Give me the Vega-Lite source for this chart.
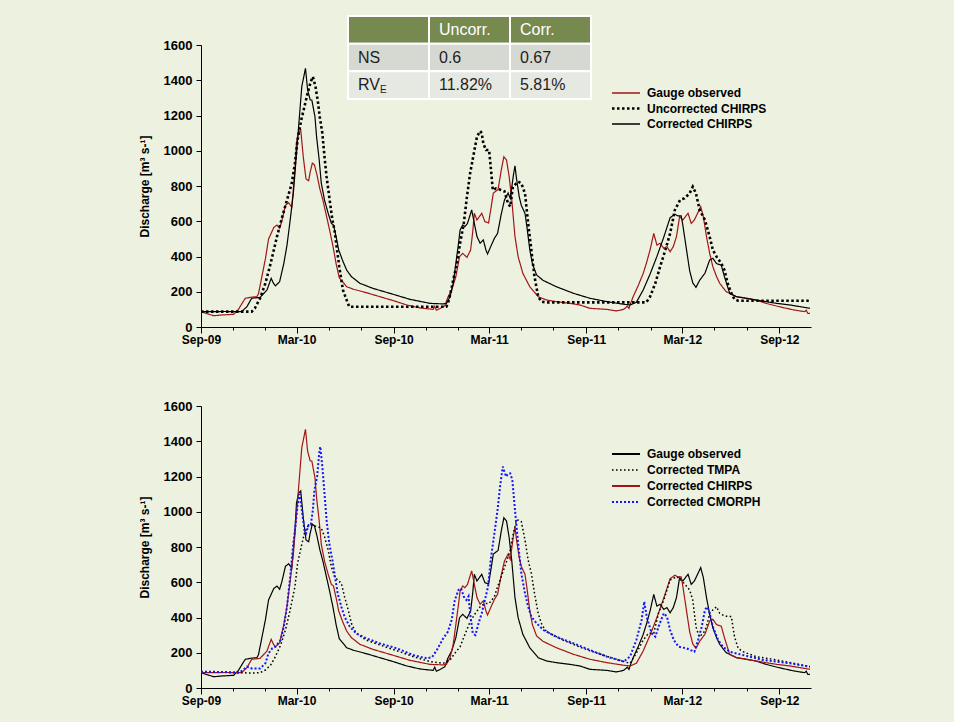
{
"$schema": "https://vega.github.io/schema/vega-lite/v6.json",
"background": "#edf1e0",
"padding": {"left": 138, "top": 15, "right": 144, "bottom": 16},
"autosize": {"type": "pad"},
"config": {
  "font": "Liberation Sans",
  "view": {"stroke": null},
  "axis": {"domainColor": "#000000", "tickColor": "#000000", "labelColor": "#000000", "labelFont": "Liberation Sans", "labelFontWeight": "bold", "grid": false, "domainWidth": 1, "tickWidth": 1, "titleColor": "#000000", "titleFont": "Liberation Sans"},
  "legend": {"labelFont": "Liberation Sans", "labelFontSize": 12, "labelFontWeight": "bold", "labelColor": "#000000"}
},
"datasets": {
"tbl": [
{"row":"h","col":"a","t":""},{"row":"h","col":"b","t":"Uncorr."},{"row":"h","col":"c","t":"Corr."},
{"row":"n","col":"a","t":"NS"},{"row":"n","col":"b","t":"0.6"},{"row":"n","col":"c","t":"0.67"},
{"row":"r","col":"a","t":"RV","sub":"E"},{"row":"r","col":"b","t":"11.82%"},{"row":"r","col":"c","t":"5.81%"}
],
"q": [
{"s":"Gauge observed","d":"2009-09-01","v":87},{"s":"Gauge observed","d":"2009-09-13","v":75},{"s":"Gauge observed","d":"2009-09-25","v":64},{"s":"Gauge observed","d":"2009-10-10","v":68},{"s":"Gauge observed","d":"2009-11-02","v":72},{"s":"Gauge observed","d":"2009-11-11","v":100},{"s":"Gauge observed","d":"2009-11-19","v":140},{"s":"Gauge observed","d":"2009-11-24","v":163},{"s":"Gauge observed","d":"2009-12-07","v":170},{"s":"Gauge observed","d":"2009-12-16","v":172},{"s":"Gauge observed","d":"2009-12-19","v":190},{"s":"Gauge observed","d":"2009-12-25","v":280},{"s":"Gauge observed","d":"2010-01-01","v":386},{"s":"Gauge observed","d":"2010-01-07","v":499},{"s":"Gauge observed","d":"2010-01-17","v":565},{"s":"Gauge observed","d":"2010-01-23","v":578},{"s":"Gauge observed","d":"2010-01-28","v":560},{"s":"Gauge observed","d":"2010-02-01","v":600},{"s":"Gauge observed","d":"2010-02-08","v":690},{"s":"Gauge observed","d":"2010-02-14","v":705},{"s":"Gauge observed","d":"2010-02-20","v":680},{"s":"Gauge observed","d":"2010-02-26","v":891},{"s":"Gauge observed","d":"2010-03-01","v":1050},{"s":"Gauge observed","d":"2010-03-05","v":1105},{"s":"Gauge observed","d":"2010-03-09","v":1118},{"s":"Gauge observed","d":"2010-03-14","v":960},{"s":"Gauge observed","d":"2010-03-19","v":840},{"s":"Gauge observed","d":"2010-03-24","v":830},{"s":"Gauge observed","d":"2010-03-27","v":880},{"s":"Gauge observed","d":"2010-03-31","v":930},{"s":"Gauge observed","d":"2010-04-04","v":920},{"s":"Gauge observed","d":"2010-04-09","v":860},{"s":"Gauge observed","d":"2010-04-14","v":787},{"s":"Gauge observed","d":"2010-04-20","v":720},{"s":"Gauge observed","d":"2010-04-26","v":640},{"s":"Gauge observed","d":"2010-05-02","v":560},{"s":"Gauge observed","d":"2010-05-09","v":460},{"s":"Gauge observed","d":"2010-05-15","v":360},{"s":"Gauge observed","d":"2010-05-21","v":280},{"s":"Gauge observed","d":"2010-06-04","v":229},{"s":"Gauge observed","d":"2010-06-16","v":215},{"s":"Gauge observed","d":"2010-07-11","v":195},{"s":"Gauge observed","d":"2010-08-06","v":172},{"s":"Gauge observed","d":"2010-08-31","v":150},{"s":"Gauge observed","d":"2010-09-26","v":125},{"s":"Gauge observed","d":"2010-10-21","v":108},{"s":"Gauge observed","d":"2010-11-15","v":100},{"s":"Gauge observed","d":"2010-11-18","v":118},{"s":"Gauge observed","d":"2010-11-21","v":95},{"s":"Gauge observed","d":"2010-11-28","v":105},{"s":"Gauge observed","d":"2010-12-07","v":120},{"s":"Gauge observed","d":"2010-12-13","v":170},{"s":"Gauge observed","d":"2010-12-20","v":210},{"s":"Gauge observed","d":"2010-12-28","v":286},{"s":"Gauge observed","d":"2011-01-04","v":399},{"s":"Gauge observed","d":"2011-01-10","v":418},{"s":"Gauge observed","d":"2011-01-18","v":395},{"s":"Gauge observed","d":"2011-01-25","v":437},{"s":"Gauge observed","d":"2011-01-29","v":541},{"s":"Gauge observed","d":"2011-02-01","v":645},{"s":"Gauge observed","d":"2011-02-06","v":607},{"s":"Gauge observed","d":"2011-02-15","v":645},{"s":"Gauge observed","d":"2011-02-21","v":598},{"s":"Gauge observed","d":"2011-02-28","v":590},{"s":"Gauge observed","d":"2011-03-04","v":664},{"s":"Gauge observed","d":"2011-03-09","v":760},{"s":"Gauge observed","d":"2011-03-18","v":780},{"s":"Gauge observed","d":"2011-03-24","v":890},{"s":"Gauge observed","d":"2011-03-29","v":966},{"s":"Gauge observed","d":"2011-04-03","v":947},{"s":"Gauge observed","d":"2011-04-08","v":853},{"s":"Gauge observed","d":"2011-04-13","v":720},{"s":"Gauge observed","d":"2011-04-19","v":513},{"s":"Gauge observed","d":"2011-04-25","v":399},{"s":"Gauge observed","d":"2011-05-04","v":304},{"s":"Gauge observed","d":"2011-05-17","v":229},{"s":"Gauge observed","d":"2011-06-02","v":172},{"s":"Gauge observed","d":"2011-06-18","v":153},{"s":"Gauge observed","d":"2011-07-06","v":144},{"s":"Gauge observed","d":"2011-08-01","v":134},{"s":"Gauge observed","d":"2011-08-20","v":125},{"s":"Gauge observed","d":"2011-09-08","v":106},{"s":"Gauge observed","d":"2011-10-10","v":100},{"s":"Gauge observed","d":"2011-10-28","v":91},{"s":"Gauge observed","d":"2011-11-11","v":100},{"s":"Gauge observed","d":"2011-11-18","v":118},{"s":"Gauge observed","d":"2011-11-21","v":105},{"s":"Gauge observed","d":"2011-11-23","v":125},{"s":"Gauge observed","d":"2011-11-29","v":172},{"s":"Gauge observed","d":"2011-12-09","v":238},{"s":"Gauge observed","d":"2011-12-18","v":304},{"s":"Gauge observed","d":"2011-12-24","v":361},{"s":"Gauge observed","d":"2011-12-31","v":437},{"s":"Gauge observed","d":"2012-01-07","v":531},{"s":"Gauge observed","d":"2012-01-13","v":465},{"s":"Gauge observed","d":"2012-01-19","v":475},{"s":"Gauge observed","d":"2012-01-26","v":446},{"s":"Gauge observed","d":"2012-02-01","v":456},{"s":"Gauge observed","d":"2012-02-07","v":427},{"s":"Gauge observed","d":"2012-02-13","v":456},{"s":"Gauge observed","d":"2012-02-19","v":512},{"s":"Gauge observed","d":"2012-02-25","v":626},{"s":"Gauge observed","d":"2012-03-02","v":607},{"s":"Gauge observed","d":"2012-03-12","v":645},{"s":"Gauge observed","d":"2012-03-18","v":588},{"s":"Gauge observed","d":"2012-03-24","v":607},{"s":"Gauge observed","d":"2012-04-05","v":683},{"s":"Gauge observed","d":"2012-04-10","v":626},{"s":"Gauge observed","d":"2012-04-16","v":512},{"s":"Gauge observed","d":"2012-04-22","v":418},{"s":"Gauge observed","d":"2012-04-28","v":342},{"s":"Gauge observed","d":"2012-05-05","v":286},{"s":"Gauge observed","d":"2012-05-11","v":248},{"s":"Gauge observed","d":"2012-05-23","v":201},{"s":"Gauge observed","d":"2012-06-12","v":172},{"s":"Gauge observed","d":"2012-07-01","v":163},{"s":"Gauge observed","d":"2012-07-19","v":153},{"s":"Gauge observed","d":"2012-08-07","v":134},{"s":"Gauge observed","d":"2012-09-01","v":115},{"s":"Gauge observed","d":"2012-09-28","v":97},{"s":"Gauge observed","d":"2012-10-19","v":87},{"s":"Gauge observed","d":"2012-10-22","v":95},{"s":"Gauge observed","d":"2012-10-25","v":77},{"s":"Gauge observed","d":"2012-10-29","v":77},

{"s":"Corrected CHIRPS","d":"2009-09-01","v":87},{"s":"Corrected CHIRPS","d":"2009-10-16","v":88},{"s":"Corrected CHIRPS","d":"2009-11-17","v":87},{"s":"Corrected CHIRPS","d":"2009-11-27","v":115},{"s":"Corrected CHIRPS","d":"2009-12-06","v":163},{"s":"Corrected CHIRPS","d":"2009-12-22","v":168},{"s":"Corrected CHIRPS","d":"2010-01-04","v":210},{"s":"Corrected CHIRPS","d":"2010-01-12","v":276},{"s":"Corrected CHIRPS","d":"2010-01-16","v":250},{"s":"Corrected CHIRPS","d":"2010-01-20","v":233},{"s":"Corrected CHIRPS","d":"2010-01-28","v":257},{"s":"Corrected CHIRPS","d":"2010-02-05","v":361},{"s":"Corrected CHIRPS","d":"2010-02-11","v":465},{"s":"Corrected CHIRPS","d":"2010-02-17","v":607},{"s":"Corrected CHIRPS","d":"2010-02-23","v":758},{"s":"Corrected CHIRPS","d":"2010-02-28","v":948},{"s":"Corrected CHIRPS","d":"2010-03-06","v":1175},{"s":"Corrected CHIRPS","d":"2010-03-11","v":1364},{"s":"Corrected CHIRPS","d":"2010-03-18","v":1468},{"s":"Corrected CHIRPS","d":"2010-03-22","v":1345},{"s":"Corrected CHIRPS","d":"2010-03-27","v":1288},{"s":"Corrected CHIRPS","d":"2010-03-30","v":1288},{"s":"Corrected CHIRPS","d":"2010-04-05","v":1193},{"s":"Corrected CHIRPS","d":"2010-04-08","v":1080},{"s":"Corrected CHIRPS","d":"2010-04-13","v":948},{"s":"Corrected CHIRPS","d":"2010-04-17","v":815},{"s":"Corrected CHIRPS","d":"2010-04-23","v":721},{"s":"Corrected CHIRPS","d":"2010-04-30","v":645},{"s":"Corrected CHIRPS","d":"2010-05-06","v":588},{"s":"Corrected CHIRPS","d":"2010-05-10","v":579},{"s":"Corrected CHIRPS","d":"2010-05-15","v":512},{"s":"Corrected CHIRPS","d":"2010-05-20","v":437},{"s":"Corrected CHIRPS","d":"2010-05-27","v":380},{"s":"Corrected CHIRPS","d":"2010-06-04","v":323},{"s":"Corrected CHIRPS","d":"2010-06-13","v":286},{"s":"Corrected CHIRPS","d":"2010-06-29","v":248},{"s":"Corrected CHIRPS","d":"2010-07-24","v":219},{"s":"Corrected CHIRPS","d":"2010-08-25","v":191},{"s":"Corrected CHIRPS","d":"2010-10-02","v":157},{"s":"Corrected CHIRPS","d":"2010-11-09","v":134},{"s":"Corrected CHIRPS","d":"2010-12-04","v":131},{"s":"Corrected CHIRPS","d":"2010-12-10","v":134},{"s":"Corrected CHIRPS","d":"2010-12-17","v":172},{"s":"Corrected CHIRPS","d":"2010-12-23","v":248},{"s":"Corrected CHIRPS","d":"2010-12-28","v":361},{"s":"Corrected CHIRPS","d":"2011-01-02","v":475},{"s":"Corrected CHIRPS","d":"2011-01-05","v":550},{"s":"Corrected CHIRPS","d":"2011-01-10","v":579},{"s":"Corrected CHIRPS","d":"2011-01-14","v":569},{"s":"Corrected CHIRPS","d":"2011-01-19","v":588},{"s":"Corrected CHIRPS","d":"2011-01-24","v":636},{"s":"Corrected CHIRPS","d":"2011-01-27","v":664},{"s":"Corrected CHIRPS","d":"2011-02-01","v":588},{"s":"Corrected CHIRPS","d":"2011-02-06","v":513},{"s":"Corrected CHIRPS","d":"2011-02-12","v":475},{"s":"Corrected CHIRPS","d":"2011-02-18","v":494},{"s":"Corrected CHIRPS","d":"2011-02-23","v":437},{"s":"Corrected CHIRPS","d":"2011-02-26","v":414},{"s":"Corrected CHIRPS","d":"2011-03-04","v":456},{"s":"Corrected CHIRPS","d":"2011-03-11","v":503},{"s":"Corrected CHIRPS","d":"2011-03-17","v":531},{"s":"Corrected CHIRPS","d":"2011-03-24","v":640},{"s":"Corrected CHIRPS","d":"2011-03-30","v":720},{"s":"Corrected CHIRPS","d":"2011-04-06","v":760},{"s":"Corrected CHIRPS","d":"2011-04-10","v":730},{"s":"Corrected CHIRPS","d":"2011-04-16","v":860},{"s":"Corrected CHIRPS","d":"2011-04-19","v":915},{"s":"Corrected CHIRPS","d":"2011-04-22","v":840},{"s":"Corrected CHIRPS","d":"2011-04-27","v":740},{"s":"Corrected CHIRPS","d":"2011-05-01","v":690},{"s":"Corrected CHIRPS","d":"2011-05-08","v":645},{"s":"Corrected CHIRPS","d":"2011-05-12","v":560},{"s":"Corrected CHIRPS","d":"2011-05-17","v":440},{"s":"Corrected CHIRPS","d":"2011-05-22","v":360},{"s":"Corrected CHIRPS","d":"2011-05-30","v":295},{"s":"Corrected CHIRPS","d":"2011-06-11","v":265},{"s":"Corrected CHIRPS","d":"2011-07-06","v":229},{"s":"Corrected CHIRPS","d":"2011-08-08","v":191},{"s":"Corrected CHIRPS","d":"2011-09-08","v":163},{"s":"Corrected CHIRPS","d":"2011-10-10","v":144},{"s":"Corrected CHIRPS","d":"2011-11-11","v":129},{"s":"Corrected CHIRPS","d":"2011-11-23","v":125},{"s":"Corrected CHIRPS","d":"2011-12-05","v":140},{"s":"Corrected CHIRPS","d":"2011-12-18","v":210},{"s":"Corrected CHIRPS","d":"2011-12-31","v":300},{"s":"Corrected CHIRPS","d":"2012-01-13","v":400},{"s":"Corrected CHIRPS","d":"2012-01-26","v":510},{"s":"Corrected CHIRPS","d":"2012-02-07","v":620},{"s":"Corrected CHIRPS","d":"2012-02-16","v":640},{"s":"Corrected CHIRPS","d":"2012-02-22","v":630},{"s":"Corrected CHIRPS","d":"2012-02-28","v":630},{"s":"Corrected CHIRPS","d":"2012-03-02","v":580},{"s":"Corrected CHIRPS","d":"2012-03-09","v":440},{"s":"Corrected CHIRPS","d":"2012-03-15","v":320},{"s":"Corrected CHIRPS","d":"2012-03-21","v":250},{"s":"Corrected CHIRPS","d":"2012-03-27","v":225},{"s":"Corrected CHIRPS","d":"2012-04-03","v":265},{"s":"Corrected CHIRPS","d":"2012-04-13","v":305},{"s":"Corrected CHIRPS","d":"2012-04-22","v":380},{"s":"Corrected CHIRPS","d":"2012-04-28","v":390},{"s":"Corrected CHIRPS","d":"2012-05-05","v":360},{"s":"Corrected CHIRPS","d":"2012-05-14","v":350},{"s":"Corrected CHIRPS","d":"2012-05-20","v":285},{"s":"Corrected CHIRPS","d":"2012-05-30","v":190},{"s":"Corrected CHIRPS","d":"2012-06-12","v":172},{"s":"Corrected CHIRPS","d":"2012-07-19","v":153},{"s":"Corrected CHIRPS","d":"2012-08-27","v":134},{"s":"Corrected CHIRPS","d":"2012-09-21","v":125},{"s":"Corrected CHIRPS","d":"2012-10-29","v":106},

{"s":"Uncorrected CHIRPS","d":"2009-09-01","v":87},{"s":"Uncorrected CHIRPS","d":"2009-12-06","v":87},{"s":"Uncorrected CHIRPS","d":"2009-12-12","v":106},{"s":"Uncorrected CHIRPS","d":"2009-12-22","v":163},{"s":"Uncorrected CHIRPS","d":"2010-01-01","v":248},{"s":"Uncorrected CHIRPS","d":"2010-01-11","v":361},{"s":"Uncorrected CHIRPS","d":"2010-01-23","v":513},{"s":"Uncorrected CHIRPS","d":"2010-02-02","v":626},{"s":"Uncorrected CHIRPS","d":"2010-02-11","v":721},{"s":"Uncorrected CHIRPS","d":"2010-02-20","v":815},{"s":"Uncorrected CHIRPS","d":"2010-02-26","v":929},{"s":"Uncorrected CHIRPS","d":"2010-03-03","v":1061},{"s":"Uncorrected CHIRPS","d":"2010-03-10","v":1175},{"s":"Uncorrected CHIRPS","d":"2010-03-16","v":1250},{"s":"Uncorrected CHIRPS","d":"2010-03-22","v":1326},{"s":"Uncorrected CHIRPS","d":"2010-03-28","v":1392},{"s":"Uncorrected CHIRPS","d":"2010-04-01","v":1420},{"s":"Uncorrected CHIRPS","d":"2010-04-06","v":1364},{"s":"Uncorrected CHIRPS","d":"2010-04-11","v":1269},{"s":"Uncorrected CHIRPS","d":"2010-04-14","v":1193},{"s":"Uncorrected CHIRPS","d":"2010-04-19","v":1099},{"s":"Uncorrected CHIRPS","d":"2010-04-23","v":966},{"s":"Uncorrected CHIRPS","d":"2010-04-27","v":853},{"s":"Uncorrected CHIRPS","d":"2010-05-02","v":739},{"s":"Uncorrected CHIRPS","d":"2010-05-08","v":607},{"s":"Uncorrected CHIRPS","d":"2010-05-12","v":550},{"s":"Uncorrected CHIRPS","d":"2010-05-16","v":456},{"s":"Uncorrected CHIRPS","d":"2010-05-21","v":342},{"s":"Uncorrected CHIRPS","d":"2010-05-28","v":210},{"s":"Uncorrected CHIRPS","d":"2010-06-04","v":153},{"s":"Uncorrected CHIRPS","d":"2010-06-09","v":115},{"s":"Uncorrected CHIRPS","d":"2010-12-10","v":115},{"s":"Uncorrected CHIRPS","d":"2010-12-13","v":135},{"s":"Uncorrected CHIRPS","d":"2010-12-17","v":181},{"s":"Uncorrected CHIRPS","d":"2010-12-23","v":267},{"s":"Uncorrected CHIRPS","d":"2010-12-30","v":361},{"s":"Uncorrected CHIRPS","d":"2011-01-05","v":475},{"s":"Uncorrected CHIRPS","d":"2011-01-12","v":588},{"s":"Uncorrected CHIRPS","d":"2011-01-18","v":739},{"s":"Uncorrected CHIRPS","d":"2011-01-24","v":872},{"s":"Uncorrected CHIRPS","d":"2011-01-31","v":985},{"s":"Uncorrected CHIRPS","d":"2011-02-06","v":1080},{"s":"Uncorrected CHIRPS","d":"2011-02-12","v":1112},{"s":"Uncorrected CHIRPS","d":"2011-02-15","v":1100},{"s":"Uncorrected CHIRPS","d":"2011-02-18","v":1042},{"s":"Uncorrected CHIRPS","d":"2011-02-23","v":1004},{"s":"Uncorrected CHIRPS","d":"2011-03-01","v":1004},{"s":"Uncorrected CHIRPS","d":"2011-03-04","v":910},{"s":"Uncorrected CHIRPS","d":"2011-03-08","v":777},{"s":"Uncorrected CHIRPS","d":"2011-03-14","v":787},{"s":"Uncorrected CHIRPS","d":"2011-03-24","v":777},{"s":"Uncorrected CHIRPS","d":"2011-03-30","v":770},{"s":"Uncorrected CHIRPS","d":"2011-04-06","v":701},{"s":"Uncorrected CHIRPS","d":"2011-04-10","v":683},{"s":"Uncorrected CHIRPS","d":"2011-04-15","v":795},{"s":"Uncorrected CHIRPS","d":"2011-04-25","v":825},{"s":"Uncorrected CHIRPS","d":"2011-05-01","v":815},{"s":"Uncorrected CHIRPS","d":"2011-05-08","v":758},{"s":"Uncorrected CHIRPS","d":"2011-05-14","v":588},{"s":"Uncorrected CHIRPS","d":"2011-05-20","v":437},{"s":"Uncorrected CHIRPS","d":"2011-05-26","v":286},{"s":"Uncorrected CHIRPS","d":"2011-06-02","v":172},{"s":"Uncorrected CHIRPS","d":"2011-06-08","v":144},{"s":"Uncorrected CHIRPS","d":"2011-06-16","v":140},{"s":"Uncorrected CHIRPS","d":"2011-12-24","v":140},{"s":"Uncorrected CHIRPS","d":"2011-12-31","v":172},{"s":"Uncorrected CHIRPS","d":"2012-01-10","v":248},{"s":"Uncorrected CHIRPS","d":"2012-01-19","v":342},{"s":"Uncorrected CHIRPS","d":"2012-01-29","v":437},{"s":"Uncorrected CHIRPS","d":"2012-02-07","v":531},{"s":"Uncorrected CHIRPS","d":"2012-02-16","v":664},{"s":"Uncorrected CHIRPS","d":"2012-02-26","v":721},{"s":"Uncorrected CHIRPS","d":"2012-03-05","v":730},{"s":"Uncorrected CHIRPS","d":"2012-03-15","v":758},{"s":"Uncorrected CHIRPS","d":"2012-03-21","v":796},{"s":"Uncorrected CHIRPS","d":"2012-03-27","v":758},{"s":"Uncorrected CHIRPS","d":"2012-04-03","v":664},{"s":"Uncorrected CHIRPS","d":"2012-04-13","v":607},{"s":"Uncorrected CHIRPS","d":"2012-04-22","v":512},{"s":"Uncorrected CHIRPS","d":"2012-04-28","v":437},{"s":"Uncorrected CHIRPS","d":"2012-05-05","v":399},{"s":"Uncorrected CHIRPS","d":"2012-05-14","v":361},{"s":"Uncorrected CHIRPS","d":"2012-05-20","v":323},{"s":"Uncorrected CHIRPS","d":"2012-05-26","v":248},{"s":"Uncorrected CHIRPS","d":"2012-06-02","v":191},{"s":"Uncorrected CHIRPS","d":"2012-06-08","v":157},{"s":"Uncorrected CHIRPS","d":"2012-06-15","v":149},{"s":"Uncorrected CHIRPS","d":"2012-10-29","v":149},

{"s":"Corrected TMPA","d":"2009-09-01","v":93},{"s":"Corrected TMPA","d":"2009-10-16","v":88},{"s":"Corrected TMPA","d":"2009-12-09","v":85},{"s":"Corrected TMPA","d":"2009-12-22","v":87},{"s":"Corrected TMPA","d":"2010-01-01","v":102},{"s":"Corrected TMPA","d":"2010-01-11","v":130},{"s":"Corrected TMPA","d":"2010-01-20","v":178},{"s":"Corrected TMPA","d":"2010-01-30","v":244},{"s":"Corrected TMPA","d":"2010-02-08","v":329},{"s":"Corrected TMPA","d":"2010-02-17","v":443},{"s":"Corrected TMPA","d":"2010-02-26","v":575},{"s":"Corrected TMPA","d":"2010-03-03","v":707},{"s":"Corrected TMPA","d":"2010-03-10","v":802},{"s":"Corrected TMPA","d":"2010-03-16","v":878},{"s":"Corrected TMPA","d":"2010-03-22","v":915},{"s":"Corrected TMPA","d":"2010-03-28","v":925},{"s":"Corrected TMPA","d":"2010-04-05","v":919},{"s":"Corrected TMPA","d":"2010-04-11","v":915},{"s":"Corrected TMPA","d":"2010-04-17","v":906},{"s":"Corrected TMPA","d":"2010-04-23","v":859},{"s":"Corrected TMPA","d":"2010-04-30","v":783},{"s":"Corrected TMPA","d":"2010-05-06","v":688},{"s":"Corrected TMPA","d":"2010-05-12","v":632},{"s":"Corrected TMPA","d":"2010-05-18","v":613},{"s":"Corrected TMPA","d":"2010-05-25","v":594},{"s":"Corrected TMPA","d":"2010-05-31","v":518},{"s":"Corrected TMPA","d":"2010-06-07","v":443},{"s":"Corrected TMPA","d":"2010-06-13","v":367},{"s":"Corrected TMPA","d":"2010-06-22","v":310},{"s":"Corrected TMPA","d":"2010-07-11","v":272},{"s":"Corrected TMPA","d":"2010-08-06","v":244},{"s":"Corrected TMPA","d":"2010-09-07","v":212},{"s":"Corrected TMPA","d":"2010-10-08","v":178},{"s":"Corrected TMPA","d":"2010-11-09","v":150},{"s":"Corrected TMPA","d":"2010-12-04","v":140},{"s":"Corrected TMPA","d":"2010-12-17","v":159},{"s":"Corrected TMPA","d":"2010-12-26","v":197},{"s":"Corrected TMPA","d":"2011-01-05","v":234},{"s":"Corrected TMPA","d":"2011-01-15","v":310},{"s":"Corrected TMPA","d":"2011-01-24","v":376},{"s":"Corrected TMPA","d":"2011-02-03","v":424},{"s":"Corrected TMPA","d":"2011-02-12","v":461},{"s":"Corrected TMPA","d":"2011-02-21","v":480},{"s":"Corrected TMPA","d":"2011-03-01","v":480},{"s":"Corrected TMPA","d":"2011-03-11","v":518},{"s":"Corrected TMPA","d":"2011-03-17","v":575},{"s":"Corrected TMPA","d":"2011-03-25","v":640},{"s":"Corrected TMPA","d":"2011-04-01","v":700},{"s":"Corrected TMPA","d":"2011-04-10","v":780},{"s":"Corrected TMPA","d":"2011-04-16","v":880},{"s":"Corrected TMPA","d":"2011-04-22","v":950},{"s":"Corrected TMPA","d":"2011-04-25","v":953},{"s":"Corrected TMPA","d":"2011-05-01","v":944},{"s":"Corrected TMPA","d":"2011-05-08","v":840},{"s":"Corrected TMPA","d":"2011-05-14","v":726},{"s":"Corrected TMPA","d":"2011-05-20","v":651},{"s":"Corrected TMPA","d":"2011-05-26","v":537},{"s":"Corrected TMPA","d":"2011-06-02","v":424},{"s":"Corrected TMPA","d":"2011-06-08","v":367},{"s":"Corrected TMPA","d":"2011-06-15","v":329},{"s":"Corrected TMPA","d":"2011-06-24","v":310},{"s":"Corrected TMPA","d":"2011-07-19","v":272},{"s":"Corrected TMPA","d":"2011-08-26","v":225},{"s":"Corrected TMPA","d":"2011-10-03","v":187},{"s":"Corrected TMPA","d":"2011-11-11","v":150},{"s":"Corrected TMPA","d":"2011-11-23","v":140},{"s":"Corrected TMPA","d":"2011-12-05","v":197},{"s":"Corrected TMPA","d":"2011-12-18","v":272},{"s":"Corrected TMPA","d":"2011-12-28","v":310},{"s":"Corrected TMPA","d":"2012-01-07","v":310},{"s":"Corrected TMPA","d":"2012-01-16","v":424},{"s":"Corrected TMPA","d":"2012-01-26","v":499},{"s":"Corrected TMPA","d":"2012-02-07","v":613},{"s":"Corrected TMPA","d":"2012-02-20","v":632},{"s":"Corrected TMPA","d":"2012-03-02","v":603},{"s":"Corrected TMPA","d":"2012-03-15","v":556},{"s":"Corrected TMPA","d":"2012-03-21","v":499},{"s":"Corrected TMPA","d":"2012-03-27","v":348},{"s":"Corrected TMPA","d":"2012-04-02","v":291},{"s":"Corrected TMPA","d":"2012-04-10","v":310},{"s":"Corrected TMPA","d":"2012-04-16","v":348},{"s":"Corrected TMPA","d":"2012-04-22","v":424},{"s":"Corrected TMPA","d":"2012-04-28","v":443},{"s":"Corrected TMPA","d":"2012-05-05","v":461},{"s":"Corrected TMPA","d":"2012-05-11","v":424},{"s":"Corrected TMPA","d":"2012-05-17","v":414},{"s":"Corrected TMPA","d":"2012-05-26","v":405},{"s":"Corrected TMPA","d":"2012-06-02","v":405},{"s":"Corrected TMPA","d":"2012-06-08","v":291},{"s":"Corrected TMPA","d":"2012-06-15","v":225},{"s":"Corrected TMPA","d":"2012-06-24","v":206},{"s":"Corrected TMPA","d":"2012-07-19","v":178},{"s":"Corrected TMPA","d":"2012-08-27","v":159},{"s":"Corrected TMPA","d":"2012-09-28","v":140},{"s":"Corrected TMPA","d":"2012-10-29","v":121},

{"s":"Corrected CMORPH","d":"2009-09-01","v":93},{"s":"Corrected CMORPH","d":"2009-10-25","v":90},{"s":"Corrected CMORPH","d":"2009-11-14","v":88},{"s":"Corrected CMORPH","d":"2009-11-27","v":121},{"s":"Corrected CMORPH","d":"2009-12-06","v":111},{"s":"Corrected CMORPH","d":"2009-12-22","v":111},{"s":"Corrected CMORPH","d":"2010-01-01","v":140},{"s":"Corrected CMORPH","d":"2010-01-07","v":197},{"s":"Corrected CMORPH","d":"2010-01-14","v":225},{"s":"Corrected CMORPH","d":"2010-01-20","v":234},{"s":"Corrected CMORPH","d":"2010-01-30","v":272},{"s":"Corrected CMORPH","d":"2010-02-05","v":348},{"s":"Corrected CMORPH","d":"2010-02-11","v":461},{"s":"Corrected CMORPH","d":"2010-02-17","v":632},{"s":"Corrected CMORPH","d":"2010-02-23","v":821},{"s":"Corrected CMORPH","d":"2010-02-26","v":897},{"s":"Corrected CMORPH","d":"2010-03-03","v":1040},{"s":"Corrected CMORPH","d":"2010-03-07","v":1100},{"s":"Corrected CMORPH","d":"2010-03-11","v":1010},{"s":"Corrected CMORPH","d":"2010-03-16","v":897},{"s":"Corrected CMORPH","d":"2010-03-19","v":878},{"s":"Corrected CMORPH","d":"2010-03-24","v":925},{"s":"Corrected CMORPH","d":"2010-03-28","v":925},{"s":"Corrected CMORPH","d":"2010-04-01","v":1010},{"s":"Corrected CMORPH","d":"2010-04-04","v":1123},{"s":"Corrected CMORPH","d":"2010-04-09","v":1199},{"s":"Corrected CMORPH","d":"2010-04-13","v":1331},{"s":"Corrected CMORPH","d":"2010-04-15","v":1369},{"s":"Corrected CMORPH","d":"2010-04-19","v":1256},{"s":"Corrected CMORPH","d":"2010-04-23","v":1105},{"s":"Corrected CMORPH","d":"2010-04-27","v":953},{"s":"Corrected CMORPH","d":"2010-05-02","v":821},{"s":"Corrected CMORPH","d":"2010-05-08","v":726},{"s":"Corrected CMORPH","d":"2010-05-12","v":651},{"s":"Corrected CMORPH","d":"2010-05-18","v":537},{"s":"Corrected CMORPH","d":"2010-05-25","v":461},{"s":"Corrected CMORPH","d":"2010-05-31","v":405},{"s":"Corrected CMORPH","d":"2010-06-10","v":348},{"s":"Corrected CMORPH","d":"2010-06-22","v":310},{"s":"Corrected CMORPH","d":"2010-07-11","v":282},{"s":"Corrected CMORPH","d":"2010-08-06","v":253},{"s":"Corrected CMORPH","d":"2010-09-07","v":225},{"s":"Corrected CMORPH","d":"2010-10-08","v":187},{"s":"Corrected CMORPH","d":"2010-11-03","v":168},{"s":"Corrected CMORPH","d":"2010-11-13","v":175},{"s":"Corrected CMORPH","d":"2010-11-22","v":216},{"s":"Corrected CMORPH","d":"2010-12-04","v":282},{"s":"Corrected CMORPH","d":"2010-12-13","v":320},{"s":"Corrected CMORPH","d":"2010-12-20","v":386},{"s":"Corrected CMORPH","d":"2010-12-26","v":499},{"s":"Corrected CMORPH","d":"2011-01-02","v":556},{"s":"Corrected CMORPH","d":"2011-01-07","v":565},{"s":"Corrected CMORPH","d":"2011-01-12","v":518},{"s":"Corrected CMORPH","d":"2011-01-17","v":499},{"s":"Corrected CMORPH","d":"2011-01-21","v":520},{"s":"Corrected CMORPH","d":"2011-01-24","v":424},{"s":"Corrected CMORPH","d":"2011-01-29","v":310},{"s":"Corrected CMORPH","d":"2011-02-03","v":300},{"s":"Corrected CMORPH","d":"2011-02-09","v":367},{"s":"Corrected CMORPH","d":"2011-02-15","v":424},{"s":"Corrected CMORPH","d":"2011-02-21","v":499},{"s":"Corrected CMORPH","d":"2011-02-27","v":575},{"s":"Corrected CMORPH","d":"2011-03-04","v":726},{"s":"Corrected CMORPH","d":"2011-03-11","v":878},{"s":"Corrected CMORPH","d":"2011-03-17","v":1010},{"s":"Corrected CMORPH","d":"2011-03-22","v":1150},{"s":"Corrected CMORPH","d":"2011-03-27","v":1256},{"s":"Corrected CMORPH","d":"2011-04-02","v":1199},{"s":"Corrected CMORPH","d":"2011-04-06","v":1215},{"s":"Corrected CMORPH","d":"2011-04-10","v":1218},{"s":"Corrected CMORPH","d":"2011-04-14","v":1180},{"s":"Corrected CMORPH","d":"2011-04-19","v":1010},{"s":"Corrected CMORPH","d":"2011-04-25","v":821},{"s":"Corrected CMORPH","d":"2011-05-01","v":651},{"s":"Corrected CMORPH","d":"2011-05-08","v":537},{"s":"Corrected CMORPH","d":"2011-05-14","v":461},{"s":"Corrected CMORPH","d":"2011-05-20","v":405},{"s":"Corrected CMORPH","d":"2011-05-30","v":367},{"s":"Corrected CMORPH","d":"2011-06-12","v":329},{"s":"Corrected CMORPH","d":"2011-07-06","v":291},{"s":"Corrected CMORPH","d":"2011-08-08","v":253},{"s":"Corrected CMORPH","d":"2011-09-08","v":216},{"s":"Corrected CMORPH","d":"2011-10-10","v":178},{"s":"Corrected CMORPH","d":"2011-11-11","v":150},{"s":"Corrected CMORPH","d":"2011-11-23","v":178},{"s":"Corrected CMORPH","d":"2011-12-05","v":272},{"s":"Corrected CMORPH","d":"2011-12-15","v":386},{"s":"Corrected CMORPH","d":"2011-12-20","v":490},{"s":"Corrected CMORPH","d":"2011-12-25","v":400},{"s":"Corrected CMORPH","d":"2012-01-03","v":310},{"s":"Corrected CMORPH","d":"2012-01-10","v":291},{"s":"Corrected CMORPH","d":"2012-01-16","v":348},{"s":"Corrected CMORPH","d":"2012-01-26","v":424},{"s":"Corrected CMORPH","d":"2012-02-01","v":405},{"s":"Corrected CMORPH","d":"2012-02-07","v":329},{"s":"Corrected CMORPH","d":"2012-02-14","v":272},{"s":"Corrected CMORPH","d":"2012-02-23","v":234},{"s":"Corrected CMORPH","d":"2012-03-09","v":225},{"s":"Corrected CMORPH","d":"2012-03-24","v":206},{"s":"Corrected CMORPH","d":"2012-03-31","v":272},{"s":"Corrected CMORPH","d":"2012-04-07","v":348},{"s":"Corrected CMORPH","d":"2012-04-13","v":443},{"s":"Corrected CMORPH","d":"2012-04-17","v":461},{"s":"Corrected CMORPH","d":"2012-04-22","v":424},{"s":"Corrected CMORPH","d":"2012-04-28","v":348},{"s":"Corrected CMORPH","d":"2012-05-08","v":272},{"s":"Corrected CMORPH","d":"2012-05-17","v":234},{"s":"Corrected CMORPH","d":"2012-05-30","v":206},{"s":"Corrected CMORPH","d":"2012-06-24","v":187},{"s":"Corrected CMORPH","d":"2012-08-01","v":159},{"s":"Corrected CMORPH","d":"2012-09-21","v":140},{"s":"Corrected CMORPH","d":"2012-10-29","v":121}
]
},
"spacing": 79,
"bounds": "flush",
"resolve": {"scale": {"color": "independent", "strokeDash": "independent"}, "legend": {"color": "independent", "strokeDash": "independent"}},
"vconcat": [
{
  "width": 610, "height": 282,
  "resolve": {"scale": {"x": "independent", "y": "independent"}},
  "layer": [
    {
      "data": {"name": "q"},
      "transform": [{"filter": "datum.s == 'Gauge observed' || datum.s == 'Uncorrected CHIRPS' || datum.s == 'Corrected CHIRPS'"}],
      "mark": {"type": "line", "strokeCap": "butt"},
      "encoding": {
        "x": {"field": "d", "type": "temporal",
          "scale": {"type": "utc", "domain": [{"year": 2009, "month": 9, "date": 1, "utc": true}, {"year": 2012, "month": 10, "date": 31, "utc": true}]},
          "axis": {"title": null, "format": "%b-%y", "formatType": "utc",
            "values": [{"year":2009,"month":9,"date":1,"utc":true},{"year":2009,"month":11,"date":1,"utc":true},{"year":2010,"month":1,"date":1,"utc":true},{"year":2010,"month":3,"date":1,"utc":true},{"year":2010,"month":5,"date":1,"utc":true},{"year":2010,"month":7,"date":1,"utc":true},{"year":2010,"month":9,"date":1,"utc":true},{"year":2010,"month":11,"date":1,"utc":true},{"year":2011,"month":1,"date":1,"utc":true},{"year":2011,"month":3,"date":1,"utc":true},{"year":2011,"month":5,"date":1,"utc":true},{"year":2011,"month":7,"date":1,"utc":true},{"year":2011,"month":9,"date":1,"utc":true},{"year":2011,"month":11,"date":1,"utc":true},{"year":2012,"month":1,"date":1,"utc":true},{"year":2012,"month":3,"date":1,"utc":true},{"year":2012,"month":5,"date":1,"utc":true},{"year":2012,"month":7,"date":1,"utc":true},{"year":2012,"month":9,"date":1,"utc":true}],
            "labelExpr": "(utcmonth(datum.value) == 2 || utcmonth(datum.value) == 8) ? utcFormat(datum.value, '%b-%y') : ''",
            "tickSize": {"condition": {"test": "utcmonth(datum.value) == 2 || utcmonth(datum.value) == 8", "value": 6}, "value": 3},
            "labelFontSize": 12, "labelPadding": 1, "labelFlush": false, "labelOverlap": false}},
        "y": {"field": "v", "type": "quantitative", "scale": {"domain": [0, 1600], "nice": false},
          "axis": {"values": [0,200,400,600,800,1000,1200,1400,1600], "format": "d", "tickSize": 5, "labelPadding": 4, "labelFontSize": 13, "labelFlush": false,
            "title": "Discharge [m³ s-¹]", "titleFontSize": 12, "titleFontWeight": "bold", "titlePadding": 12}},
        "strokeWidth": {"condition": {"test": "datum.s == 'Uncorrected CHIRPS'", "value": 2.6}, "value": 1.2},
        "color": {"field": "s", "type": "nominal", "scale": {"domain": ["Gauge observed", "Uncorrected CHIRPS", "Corrected CHIRPS"], "range": ["#a31515", "#000000", "#000000"]},
          "legend": {"title": null, "orient": "none", "legendX": 419, "legendY": 42, "symbolType": "M-1.75,0H1.75", "symbolSize": 256, "labelOffset": 15, "rowPadding": 3.5, "padding": 0,
            "encode": {"symbols": {"update": {"strokeWidth": {"signal": "datum.value == 'Uncorrected CHIRPS' ? 2.6 : 1.3"}}}}}},
        "strokeDash": {"field": "s", "type": "nominal", "scale": {"domain": ["Gauge observed", "Uncorrected CHIRPS", "Corrected CHIRPS"], "range": [[1, 0], [2.5, 2.5], [1, 0]]},
          "legend": {"title": null, "orient": "none", "legendX": 419, "legendY": 42, "symbolType": "M-1.75,0H1.75", "symbolSize": 256, "labelOffset": 15, "rowPadding": 3.5, "padding": 0,
            "encode": {"symbols": {"update": {"strokeWidth": {"signal": "datum.value == 'Uncorrected CHIRPS' ? 2.6 : 1.3"}}}}}}
      }
    },
    {
      "data": {"name": "tbl"},
      "layer": [
        {
          "mark": {"type": "rect", "stroke": "#ffffff", "strokeWidth": 2},
          "encoding": {
            "x": {"field": "col", "type": "nominal", "scale": {"domain": ["a","b","c"], "range": [147, 390], "paddingInner": 0, "paddingOuter": 0}, "axis": null},
            "y": {"field": "row", "type": "nominal", "scale": {"domain": ["h","n","r"], "range": [-29, 54], "paddingInner": 0, "paddingOuter": 0}, "axis": null},
            "fill": {"field": "row", "type": "nominal", "scale": {"domain": ["h","n","r"], "range": ["#768a50", "#d6d9d1", "#e6e8e2"]}, "legend": null}
          }
        },
        {
          "transform": [{"filter": "datum.row == 'h'"}],
          "mark": {"type": "text", "align": "left", "baseline": "middle", "dx": 10, "fontSize": 16, "color": "#ffffff", "font": "Liberation Sans"},
          "encoding": {
            "x": {"field": "col", "type": "nominal", "bandPosition": 0, "axis": null},
            "y": {"field": "row", "type": "nominal", "axis": null},
            "text": {"field": "t"}
          }
        },
        {
          "transform": [{"filter": "datum.row != 'h'"}],
          "mark": {"type": "text", "align": "left", "baseline": "middle", "dx": 10, "fontSize": 16, "color": "#1e1e1e", "font": "Liberation Sans"},
          "encoding": {
            "x": {"field": "col", "type": "nominal", "bandPosition": 0, "axis": null},
            "y": {"field": "row", "type": "nominal", "axis": null},
            "text": {"field": "t"}
          }
        },
        {
          "transform": [{"filter": "datum.sub != null"}],
          "mark": {"type": "text", "align": "left", "baseline": "middle", "dx": 32, "dy": 5, "fontSize": 10, "color": "#1e1e1e", "font": "Liberation Sans"},
          "encoding": {
            "x": {"field": "col", "type": "nominal", "bandPosition": 0, "axis": null},
            "y": {"field": "row", "type": "nominal", "axis": null},
            "text": {"field": "sub"}
          }
        }
      ]
    }
  ]
},
{
  "width": 610, "height": 282,
  "data": {"name": "q"},
  "transform": [{"filter": "datum.s != 'Uncorrected CHIRPS'"}],
  "mark": {"type": "line", "strokeCap": "butt"},
  "encoding": {
    "x": {"field": "d", "type": "temporal",
      "scale": {"type": "utc", "domain": [{"year": 2009, "month": 9, "date": 1, "utc": true}, {"year": 2012, "month": 10, "date": 31, "utc": true}]},
      "axis": {"title": null, "format": "%b-%y", "formatType": "utc",
        "values": [{"year":2009,"month":9,"date":1,"utc":true},{"year":2009,"month":11,"date":1,"utc":true},{"year":2010,"month":1,"date":1,"utc":true},{"year":2010,"month":3,"date":1,"utc":true},{"year":2010,"month":5,"date":1,"utc":true},{"year":2010,"month":7,"date":1,"utc":true},{"year":2010,"month":9,"date":1,"utc":true},{"year":2010,"month":11,"date":1,"utc":true},{"year":2011,"month":1,"date":1,"utc":true},{"year":2011,"month":3,"date":1,"utc":true},{"year":2011,"month":5,"date":1,"utc":true},{"year":2011,"month":7,"date":1,"utc":true},{"year":2011,"month":9,"date":1,"utc":true},{"year":2011,"month":11,"date":1,"utc":true},{"year":2012,"month":1,"date":1,"utc":true},{"year":2012,"month":3,"date":1,"utc":true},{"year":2012,"month":5,"date":1,"utc":true},{"year":2012,"month":7,"date":1,"utc":true},{"year":2012,"month":9,"date":1,"utc":true}],
        "labelExpr": "(utcmonth(datum.value) == 2 || utcmonth(datum.value) == 8) ? utcFormat(datum.value, '%b-%y') : ''",
        "tickSize": {"condition": {"test": "utcmonth(datum.value) == 2 || utcmonth(datum.value) == 8", "value": 6}, "value": 3},
        "labelFontSize": 12, "labelPadding": 1, "labelFlush": false, "labelOverlap": false}},
    "y": {"field": "v", "type": "quantitative", "scale": {"domain": [0, 1600], "nice": false},
      "axis": {"values": [0,200,400,600,800,1000,1200,1400,1600], "format": "d", "tickSize": 5, "labelPadding": 4, "labelFontSize": 13, "labelFlush": false,
        "title": "Discharge [m³ s-¹]", "titleFontSize": 12, "titleFontWeight": "bold", "titlePadding": 12}},
    "strokeWidth": {"condition": [{"test": "datum.s == 'Corrected CMORPH'", "value": 2}, {"test": "datum.s == 'Corrected TMPA'", "value": 1.5}], "value": 1.2},
    "color": {"field": "s", "type": "nominal", "scale": {"domain": ["Gauge observed", "Corrected TMPA", "Corrected CHIRPS", "Corrected CMORPH"], "range": ["#000000", "#000000", "#a31515", "#1414ff"]},
      "legend": {"title": null, "orient": "none", "legendX": 419, "legendY": 42, "symbolType": "M-1.75,0H1.75", "symbolSize": 256, "labelOffset": 15, "rowPadding": 4, "padding": 0,
        "encode": {"symbols": {"update": {"strokeWidth": {"signal": "datum.value == 'Corrected TMPA' ? 1.6 : 2"}}}}}},
    "strokeDash": {"field": "s", "type": "nominal", "scale": {"domain": ["Gauge observed", "Corrected TMPA", "Corrected CHIRPS", "Corrected CMORPH"], "range": [[1, 0], [1.6, 2.4], [1, 0], [2, 2]]},
      "legend": {"title": null, "orient": "none", "legendX": 419, "legendY": 42, "symbolType": "M-1.75,0H1.75", "symbolSize": 256, "labelOffset": 15, "rowPadding": 4, "padding": 0,
        "encode": {"symbols": {"update": {"strokeWidth": {"signal": "datum.value == 'Corrected TMPA' ? 1.6 : 2"}}}}}}
  }
}
]
}
